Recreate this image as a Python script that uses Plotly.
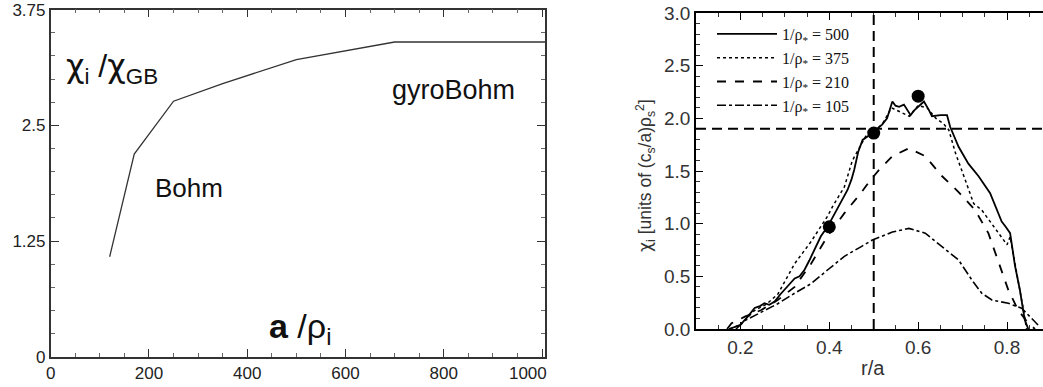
import plotly.graph_objects as go
from plotly.subplots import make_subplots

# ---------------- Left panel data ----------------
a_over_rho = [120, 170, 250, 350, 500, 700, 1006]
chi_ratio = [1.08, 2.19, 2.76, 2.95, 3.21, 3.40, 3.40]
left_xticks = [0, 200, 400, 600, 800, 1000]
left_xticklabels = ["0", "200", "400", "600", "800", "1000\u2007\u2007\u2007"]
left_yticks = [0, 1.25, 2.5, 3.75]
left_yticklabels = ["0", "1.25", "2.5", "3.75"]

# ---------------- Right panel data ----------------
r500 = [0.175, 0.20, 0.217, 0.232, 0.245, 0.254, 0.265, 0.277, 0.29, 0.299, 0.31, 0.322, 0.333,
        0.344, 0.355, 0.363, 0.372, 0.381, 0.396, 0.41, 0.419, 0.43, 0.441, 0.45, 0.456, 0.465,
        0.475, 0.49, 0.50, 0.51, 0.519, 0.53, 0.542, 0.549, 0.557, 0.568, 0.583, 0.59, 0.598,
        0.613, 0.624, 0.631, 0.65, 0.665, 0.672, 0.691, 0.713, 0.736, 0.762, 0.788, 0.797,
        0.807, 0.818, 0.829, 0.84, 0.848]
chi500 = [0.0, 0.04, 0.12, 0.20, 0.22, 0.245, 0.23, 0.26, 0.33, 0.37, 0.42, 0.48, 0.50,
          0.56, 0.65, 0.72, 0.80, 0.88, 0.97, 1.08, 1.16, 1.24, 1.32, 1.42, 1.51, 1.68,
          1.795, 1.84, 1.86, 1.91, 1.94, 2.00, 2.16, 2.12, 2.11, 2.13, 2.03, 2.07, 2.10,
          2.16, 2.08, 2.02, 2.03, 2.03, 1.92, 1.73, 1.57, 1.45, 1.29, 1.02, 0.97,
          0.91, 0.60, 0.37, 0.085, 0.0]

r375 = [0.175, 0.20, 0.23, 0.26, 0.284, 0.30, 0.322, 0.359, 0.396, 0.407, 0.434, 0.452,
        0.482, 0.50, 0.52, 0.54, 0.56, 0.58, 0.60, 0.62, 0.64, 0.657, 0.669, 0.684, 0.706,
        0.725, 0.743, 0.78, 0.80, 0.807, 0.818, 0.829, 0.837, 0.844]
chi375 = [0.0, 0.04, 0.17, 0.24, 0.33, 0.45, 0.62, 0.83, 1.07, 1.16, 1.35, 1.60,
          1.83, 1.87, 1.95, 2.10, 2.06, 2.02, 2.12, 2.10, 2.00, 1.95, 1.89, 1.67, 1.415,
          1.19, 1.13, 0.91, 0.80, 0.876, 0.62, 0.40, 0.18, 0.0]

r210 = [0.17, 0.18, 0.21, 0.247, 0.284, 0.322, 0.359, 0.396, 0.434, 0.471, 0.493, 0.512,
        0.542, 0.579, 0.616, 0.654, 0.691, 0.728, 0.758, 0.78, 0.803, 0.825, 0.848, 0.863]
chi210 = [0.0, 0.054, 0.117, 0.18, 0.275, 0.40, 0.62, 0.88, 1.10, 1.29, 1.415, 1.51,
          1.64, 1.716, 1.64, 1.45, 1.30, 1.13, 0.91, 0.655, 0.37, 0.18, 0.054, 0.0]

r105 = [0.19, 0.21, 0.247, 0.284, 0.322, 0.359, 0.396, 0.434, 0.471, 0.497, 0.542, 0.579,
        0.616, 0.654, 0.691, 0.721, 0.743, 0.766, 0.803, 0.833, 0.855, 0.874]
chi105 = [0.0, 0.08, 0.16, 0.24, 0.34, 0.43, 0.56, 0.69, 0.78, 0.845, 0.92, 0.955,
          0.91, 0.78, 0.655, 0.465, 0.34, 0.275, 0.244, 0.197, 0.10, 0.02]

marker_r = [0.40, 0.50, 0.60]
marker_chi = [0.97, 1.86, 2.21]

ref_r = 0.5
ref_chi = 1.9

legend_names = ["1/ρ<sub>*</sub> = 500", "1/ρ<sub>*</sub> = 375",
                "1/ρ<sub>*</sub> = 210", "1/ρ<sub>*</sub> = 105"]

W, H = 1043, 387

fig = make_subplots(rows=1, cols=2)

# Left panel
fig.add_trace(go.Scatter(x=a_over_rho, y=chi_ratio, mode="lines",
                         line=dict(color="#333333", width=1.3), showlegend=False),
              row=1, col=1)

# Right panel curves
series = [(r500, chi500, "solid", 1.8), (r375, chi375, "dot", 1.5),
          (r210, chi210, "dash", 1.8), (r105, chi105, "dashdot", 1.6)]
for (xs, ys, dash, w), name in zip(series, legend_names):
    fig.add_trace(go.Scatter(x=xs, y=ys, mode="lines", name=name,
                             line=dict(color="black", width=w, dash=dash)),
                  row=1, col=2)

fig.add_trace(go.Scatter(x=marker_r, y=marker_chi, mode="markers", showlegend=False,
                         marker=dict(color="black", size=13)), row=1, col=2)

fig.add_vline(x=ref_r, line=dict(color="black", width=2, dash="10px,6px"), row=1, col=2)
fig.add_hline(y=ref_chi, line=dict(color="black", width=2, dash="10px,6px"), row=1, col=2)


def px_x(p):
    return p / W


def px_y(p):
    return (H - p) / H


tickfont_l = dict(family="Liberation Sans, Arial", size=17, color="#222222")
tickfont_r = dict(family="Liberation Sans, Arial", size=19, color="#333333")

fig.update_layout(
    template="none",
    width=W, height=H,
    margin=dict(l=0, r=0, t=0, b=0, autoexpand=False),
    plot_bgcolor="white", paper_bgcolor="white",
    xaxis=dict(domain=[px_x(50.7), px_x(545)], range=[0, 1006], automargin=False,
               tickvals=left_xticks, ticktext=left_xticklabels, ticklabeloverflow="allow",
               showline=True, linecolor="#333333", linewidth=1.6, mirror="ticks",
               ticks="inside", ticklen=8, tickcolor="#333333", tickwidth=1.2,
               minor=dict(dtick=50, tick0=0, ticks="inside", ticklen=4, tickcolor="#666666"),
               showgrid=False, zeroline=False, tickfont=tickfont_l),
    yaxis=dict(domain=[px_y(356.7), px_y(9.6)], range=[0, 3.75], automargin=False,
               tickvals=left_yticks, ticktext=left_yticklabels, ticklabeloverflow="allow",
               showline=True, linecolor="#333333", linewidth=1.6, mirror="ticks",
               ticks="inside", ticklen=8, tickcolor="#333333", tickwidth=1.2,
               minor=dict(dtick=0.25, tick0=0, ticks="inside", ticklen=4, tickcolor="#666666"),
               showgrid=False, zeroline=False, tickfont=tickfont_l),
    xaxis2=dict(domain=[px_x(696), 1.0], range=[0.1, 0.881], dtick=0.2, tick0=0,
                tickformat=".1f", automargin=False, ticklabeloverflow="allow",
                showline=True, linecolor="black", linewidth=1.5, mirror="ticks",
                ticks="inside", ticklen=7, tickcolor="black", tickwidth=1.2,
                minor=dict(dtick=0.05, tick0=0, ticks="inside", ticklen=4, tickcolor="#333333"),
                showgrid=False, zeroline=False, tickfont=tickfont_r),
    yaxis2=dict(domain=[px_y(329), px_y(13)], range=[0, 3.0], dtick=0.5, tick0=0,
                tickformat=".1f", automargin=False, ticklabeloverflow="allow",
                showline=True, linecolor="black", linewidth=1.5, mirror=False,
                ticks="inside", ticklen=7, tickcolor="black", tickwidth=1.2,
                minor=dict(dtick=0.1, tick0=0, ticks="inside", ticklen=4, tickcolor="#333333"),
                showgrid=False, zeroline=False, tickfont=tickfont_r),
    legend=dict(x=px_x(712), y=px_y(17), xanchor="left", yanchor="top",
                bgcolor="rgba(0,0,0,0)", borderwidth=0,
                font=dict(family="Liberation Serif, Times New Roman", size=16, color="#111111"),
                tracegroupgap=0, itemwidth=60),
    showlegend=True,
)

ann_font = dict(family="Liberation Sans, Arial", color="#111111")
CHI = '<span style="font-family:DejaVu Sans">χ</span>'
fig.add_annotation(x=px_x(112), y=px_y(68), xref="paper", yref="paper",
                   xanchor="center", yanchor="middle",
                   text=CHI + "<sub>i</sub> /" + CHI + "<sub>GB</sub>", showarrow=False,
                   font=dict(size=32, **ann_font))
fig.add_annotation(x=px_x(453), y=px_y(90), xref="paper", yref="paper",
                   xanchor="center", yanchor="middle",
                   text="gyroBohm", showarrow=False, font=dict(size=27, **ann_font))
fig.add_annotation(x=px_x(189), y=px_y(188), xref="paper", yref="paper",
                   xanchor="center", yanchor="middle",
                   text="Bohm", showarrow=False, font=dict(size=26, **ann_font))
fig.add_annotation(x=px_x(300), y=px_y(328), xref="paper", yref="paper",
                   xanchor="center", yanchor="middle",
                   text="<b>a</b> /ρ<sub>i</sub>", showarrow=False,
                   font=dict(size=34, **ann_font))
fig.add_annotation(x=px_x(646), y=px_y(176), xref="paper", yref="paper",
                   xanchor="center", yanchor="middle",
                   text=CHI + "<sub>i</sub> [units of (c<sub>s</sub>/a)ρ<sub>s</sub><sup>2</sup>]",
                   textangle=-90, showarrow=False,
                   font=dict(size=17.5, family="Liberation Sans, Arial", color="#333333"))
fig.add_annotation(x=px_x(873), y=px_y(368), xref="paper", yref="paper",
                   xanchor="center", yanchor="middle",
                   text="r/a", showarrow=False,
                   font=dict(size=20, family="Liberation Sans, Arial", color="#333333"))

# Remove the default page margin so the 1043x387 figure fills the window exactly.
fig.write_html("out.html",
               config={"displayModeBar": False},
               post_script="document.body.style.margin='0';"
                           "document.body.style.overflow='hidden';")
